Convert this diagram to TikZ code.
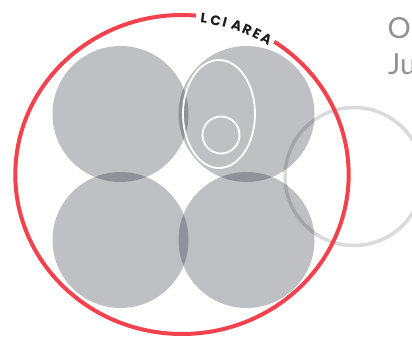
\documentclass[tikz,border=0pt]{standalone}
\usepackage{fontspec}
\newfontfamily\lcifont{Poppins}
\newfontfamily\titlefont{Lato}
\usetikzlibrary{calc}
\definecolor{lcired}{RGB}{241,66,77}
\definecolor{ringgray}{RGB}{218,218,219}
\definecolor{blobgray}{RGB}{20,22,35}
\definecolor{titlegray}{RGB}{145,145,147}
\definecolor{lettercol}{RGB}{28,28,30}
\tikzset{
  blob/.style={fill=blobgray, fill opacity=0.27, draw=none},
  ring/.style={draw=ringgray, line width=3.5pt},
  whiteline/.style={draw=white, line width=1.8pt},
  redline/.style={draw=lcired, line width=4pt},
  letter/.style={font=\lcifont\bfseries\fontsize{13.8}{13.8}\selectfont, text=lettercol, inner sep=0pt, anchor=center},
  title/.style={font=\titlefont\fontsize{29}{29}\selectfont, text=titlegray, inner sep=0pt, anchor=base west},
}
\begin{document}
\begin{tikzpicture}[x=1pt,y=1pt]
\clip (0,0) rectangle (412,341);
\coordinate (C) at (182,166.5);
% outline circle at right
\draw[ring] (354,164.5) circle[radius=69];
% four grey discs
\fill[blob] (120.5,227) circle[radius=68];
\fill[blob] (246.5,227) circle[radius=68];
\fill[blob] (120.5,101) circle[radius=68];
\fill[blob] (246.5,101) circle[radius=68];
% white ellipse and small circle
\draw[whiteline] (219,227) ellipse[x radius=36, y radius=54];
\draw[whiteline] (221,206) circle[radius=18.5];
% red LCI area
\draw[redline] ($(C)+(85.2:166.7 and 159.5)$) arc[start angle=85.2, end angle=416.4, x radius=166.7, y radius=159.5];
% curved label
\node[letter, rotate=-7.7]  (l1) at ($(C)+(82.3:164.7 and 157.5)$) {L};
\node[letter, rotate=-11.8] (l2) at ($(C)+(78.2:164.7 and 157.5)$) {C};
\node[letter, rotate=-15.1] (l3) at ($(C)+(74.9:164.7 and 157.5)$) {I};
\node[letter, rotate=-19.4] (l4) at ($(C)+(70.6:164.7 and 157.5)$) {A};
\node[letter, rotate=-23.3] (l5) at ($(C)+(66.7:164.7 and 157.5)$) {R};
\node[letter, rotate=-27.1] (l6) at ($(C)+(62.9:164.7 and 157.5)$) {E};
\node[letter, rotate=-30.9] (l7) at ($(C)+(59.1:164.7 and 157.5)$) {A};
% title text, cut at the right edge
\node[title] (t1) at (387.5,302) {O};
\node[title] (t2) at (388,267) {Ju};
\end{tikzpicture}
\end{document}
